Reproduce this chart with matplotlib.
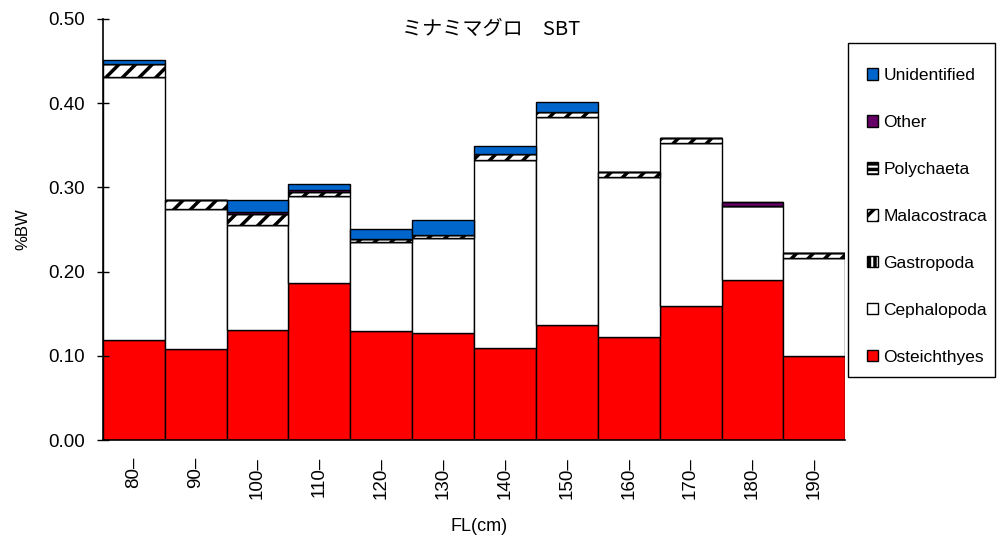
import numpy as np
import matplotlib.pyplot as plt
from matplotlib.patches import Rectangle

plt.rcParams['font.family'] = ['Liberation Sans', 'Noto Sans CJK JP', 'DejaVu Sans']
plt.rcParams['hatch.linewidth'] = 2.5

# size classes (FL, cm)
labels = ['80–', '90–', '100–', '110–', '120–', '130–', '140–', '150–', '160–', '170–', '180–', '190–']

# %BW by prey group
osteichthyes = [0.119, 0.108, 0.131, 0.186, 0.129, 0.127, 0.109, 0.137, 0.122, 0.159, 0.190, 0.100]
cephalopoda  = [0.312, 0.166, 0.124, 0.104, 0.106, 0.113, 0.224, 0.246, 0.190, 0.194, 0.088, 0.116]
gastropoda   = [0.000, 0.000, 0.000, 0.000, 0.000, 0.000, 0.000, 0.000, 0.000, 0.000, 0.000, 0.000]
malacostraca = [0.015, 0.011, 0.013, 0.005, 0.004, 0.004, 0.007, 0.007, 0.006, 0.005, 0.000, 0.006]
polychaeta   = [0.000, 0.000, 0.000, 0.000, 0.000, 0.000, 0.000, 0.000, 0.000, 0.000, 0.000, 0.000]
other        = [0.000, 0.000, 0.003, 0.002, 0.000, 0.000, 0.000, 0.000, 0.000, 0.000, 0.004, 0.000]
unidentified = [0.005, 0.000, 0.014, 0.007, 0.011, 0.017, 0.009, 0.011, 0.000, 0.000, 0.000, 0.000]

series = [
    ('Osteichthyes', osteichthyes, '#FF0000', None),
    ('Cephalopoda', cephalopoda, 'white', None),
    ('Gastropoda', gastropoda, 'white', '|||'),
    ('Malacostraca', malacostraca, 'white', '//'),
    ('Polychaeta', polychaeta, 'white', '---'),
    ('Other', other, '#660066', None),
    ('Unidentified', unidentified, '#0066CC', None),
]

W, H = 998, 538
fig = plt.figure(figsize=(W / 100, H / 100), dpi=100)
ax = fig.add_axes([0.103, 0.182, 0.744, 0.783])

x = np.arange(len(labels))
bottom = np.zeros(len(labels))
handles = {}
for name, vals, color, hatch in series:
    vals = np.array(vals)
    b = ax.bar(x, vals, width=1.0, bottom=bottom, color=color, edgecolor='black',
               linewidth=1.0, hatch=hatch, label=name)
    handles[name] = b
    bottom += vals

ax.set_xlim(-0.5, len(labels) - 0.5)
ax.set_ylim(0, 0.5)
ax.set_yticks(np.arange(0, 0.51, 0.1))
ax.set_yticklabels(['%.2f' % v for v in np.arange(0, 0.51, 0.1)], fontsize=13.5)
ax.set_xticks(x)
ax.set_xticklabels(labels, rotation=90, fontsize=13.5)
ax.tick_params(axis='x', length=0, pad=12)
ax.tick_params(axis='y', direction='inout', length=8, width=1, pad=9)
ax.spines['top'].set_visible(False)
ax.spines['right'].set_visible(False)
for s in ['left', 'bottom']:
    ax.spines[s].set_linewidth(1.2)

ax.set_ylabel('%BW', fontsize=12)
ax.yaxis.set_label_coords(-0.097, 0.5)
ax.set_xlabel('FL(cm)', fontsize=13)
ax.xaxis.set_label_coords(0.507, -0.185)
fig.text(0.492, 0.946, 'ミナミマグロ　SBT', ha='center', va='center', fontsize=14.5,
         family=['Noto Sans CJK JP', 'DejaVu Sans'])

# legend box drawn separately so the padding can differ vertically / horizontally
fig.patches.append(Rectangle((848 / W, 1 - 377 / H), 147 / W, 334 / H, transform=fig.transFigure,
                             fill=False, edgecolor='black', linewidth=1.0))
order = ['Unidentified', 'Other', 'Polychaeta', 'Malacostraca', 'Gastropoda', 'Cephalopoda', 'Osteichthyes']
leg = fig.legend([handles[n] for n in order], order, loc='upper left',
                 bbox_to_anchor=(867 / W, 1 - 68 / H), fontsize=12.5, frameon=False,
                 handlelength=0.65, handleheight=0.65, handletextpad=0.3,
                 labelspacing=1.84, borderpad=0, borderaxespad=0)

fig.savefig('out.png', dpi=100)
